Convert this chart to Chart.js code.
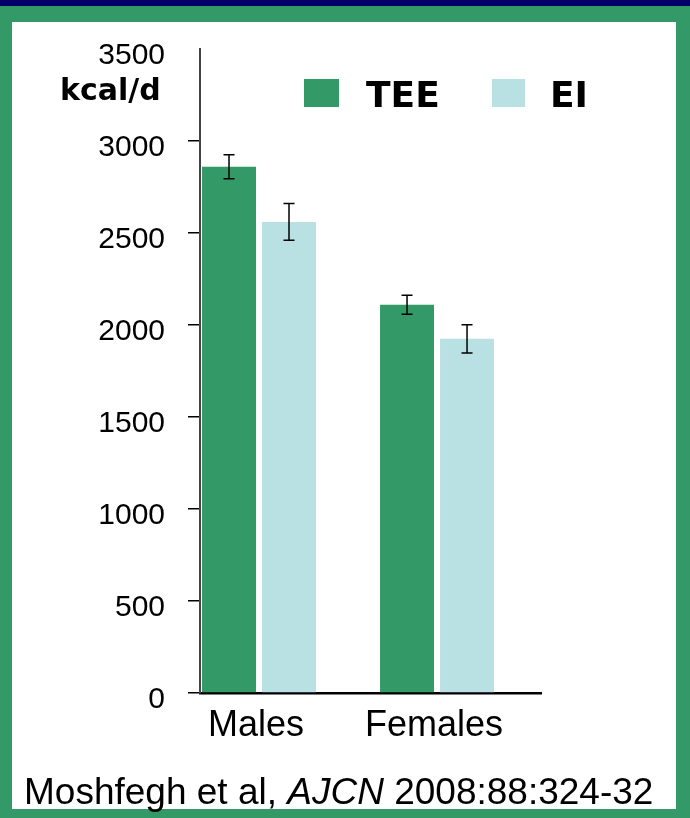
<!DOCTYPE html>
<html>
<head>
<meta charset="utf-8">
<script src="https://cdn.jsdelivr.net/npm/chart.js@4"></script>
<style>
  html, body { margin: 0; padding: 0; }
  #frame { position: absolute; left: 0; top: 0; width: 690px; height: 818px; background: #339966; }
  #band { position: absolute; left: 0; top: 0; width: 690px; height: 6px; background: #000066; }
  #panel { position: absolute; left: 12px; top: 22px; width: 664px; height: 787px; background: #fff; }
  #energyChart { position: absolute; left: 0; top: 0; }
</style>
</head>
<body>
<div id="frame"><div id="band"></div><div id="panel"></div></div>
<canvas id="energyChart" width="690" height="818"></canvas>
<script>
// Data
const categories = ['Males', 'Females'];
const seriesNames = ['TEE', 'EI'];
const teeValues = [2860, 2110];   // total energy expenditure
const eiValues = [2560, 1925];    // reported energy intake
const teeErrors = [65, 52];
const eiErrors = [100, 77];
const yTicks = [0, 500, 1000, 1500, 2000, 2500, 3000, 3500];

const green = '#339966';
const lightBlue = '#b9e0e3';
const font = "'Liberation Sans', Arial, sans-serif";
const boldFont = "'DejaVu Sans', Verdana, sans-serif";

// Draws the +/- error whiskers on top of every bar
const errorBars = {
    id: 'errorBars',
    afterDatasetsDraw(chart) {
        const ctx = chart.ctx;
        const y = chart.scales.y;
        ctx.save();
        ctx.strokeStyle = '#000';
        ctx.lineWidth = 1.5;
        chart.data.datasets.forEach((ds, i) => {
            chart.getDatasetMeta(i).data.forEach((bar, j) => {
                const v = ds.data[j].y;
                const e = ds.errors[j];
                const top = y.getPixelForValue(v + e);
                const bottom = y.getPixelForValue(v - e);
                ctx.beginPath();
                ctx.moveTo(bar.x, top);
                ctx.lineTo(bar.x, bottom);
                ctx.moveTo(bar.x - 5.5, top);
                ctx.lineTo(bar.x + 5.5, top);
                ctx.moveTo(bar.x - 5.5, bottom);
                ctx.lineTo(bar.x + 5.5, bottom);
                ctx.stroke();
            });
        });
        ctx.restore();
    }
};

// Unit label, legend inside the plot and the citation line
const slideText = {
    id: 'slideText',
    afterDraw(chart) {
        const ctx = chart.ctx;
        ctx.save();
        ctx.fillStyle = '#000';
        ctx.textBaseline = 'alphabetic';
        ctx.textAlign = 'left';

        ctx.font = 'bold 30px ' + boldFont;
        ctx.fillText('kcal/d', 60, 100);

        // legend from the datasets
        const boxes = [[304, 35, 366], [492, 33, 550]];
        chart.data.datasets.forEach((ds, i) => {
            const [bx, bw, tx] = boxes[i];
            ctx.fillStyle = ds.backgroundColor;
            ctx.fillRect(bx, 79, bw, 28);
            ctx.fillStyle = '#000';
            ctx.font = 'bold 36px ' + boldFont;
            ctx.fillText(ds.label, tx, 107);
        });

        // citation
        let x = 24;
        const base = 804;
        ctx.font = '37px ' + font;
        ctx.fillText('Moshfegh et al, ', x, base);
        x += ctx.measureText('Moshfegh et al, ').width;
        ctx.font = 'italic 37px ' + font;
        ctx.fillText('AJCN', x, base);
        x += ctx.measureText('AJCN ').width;
        ctx.font = '37px ' + font;
        ctx.fillText('2008:88:324-32', x, base);
        ctx.restore();
    }
};

const ctx = document.getElementById('energyChart').getContext('2d');

const energyChart = new Chart(ctx, {
    type: 'bar',
    data: {
        datasets: [{
            label: seriesNames[0],
            data: teeValues.map((v, i) => ({ x: i, y: v })),
            errors: teeErrors,
            backgroundColor: green
        }, {
            label: seriesNames[1],
            data: eiValues.map((v, i) => ({ x: i, y: v })),
            errors: eiErrors,
            backgroundColor: lightBlue
        }]
    },
    options: {
        responsive: false,
        animation: false,
        categoryPercentage: 0.674,
        barPercentage: 0.9,
        layout: {
            padding: { left: 0, top: 49, right: 149, bottom: 0 }
        },
        scales: {
            x: {
                type: 'linear',
                offset: false,
                min: -0.3315,
                max: 1.584,
                afterBuildTicks: scale => {
                    scale.ticks = categories.map((c, i) => ({ value: i }));
                },
                afterFit: scale => { scale.height = 125; },
                grid: { display: true, offset: false, drawOnChartArea: false, drawTicks: false },
                border: { display: true, color: '#000', width: 2.5 },
                ticks: {
                    callback: value => categories[value],
                    color: '#000',
                    padding: 11,
                    labelOffset: -3,
                    font: { family: font, size: 36 }
                }
            },
            y: {
                min: 0,
                max: 3500,
                afterBuildTicks: scale => {
                    scale.ticks = yTicks.map(v => ({ value: v }));
                },
                afterFit: scale => { scale.width = 200; },
                grid: {
                    drawOnChartArea: false,
                    drawTicks: true,
                    tickLength: 12,
                    lineWidth: 1.5,
                    color: c => (c.tick && c.tick.value === 3500) ? 'rgba(0,0,0,0)' : '#000'
                },
                border: { display: true, color: '#444', width: 2 },
                ticks: {
                    callback: value => String(value),
                    color: '#000',
                    padding: 23,
                    labelOffset: 6.5,
                    font: { family: font, size: 30 }
                }
            }
        },
        plugins: {
            legend: { display: false },
            tooltip: { enabled: false }
        }
    },
    plugins: [errorBars, slideText]
});
</script>
</body>
</html>
